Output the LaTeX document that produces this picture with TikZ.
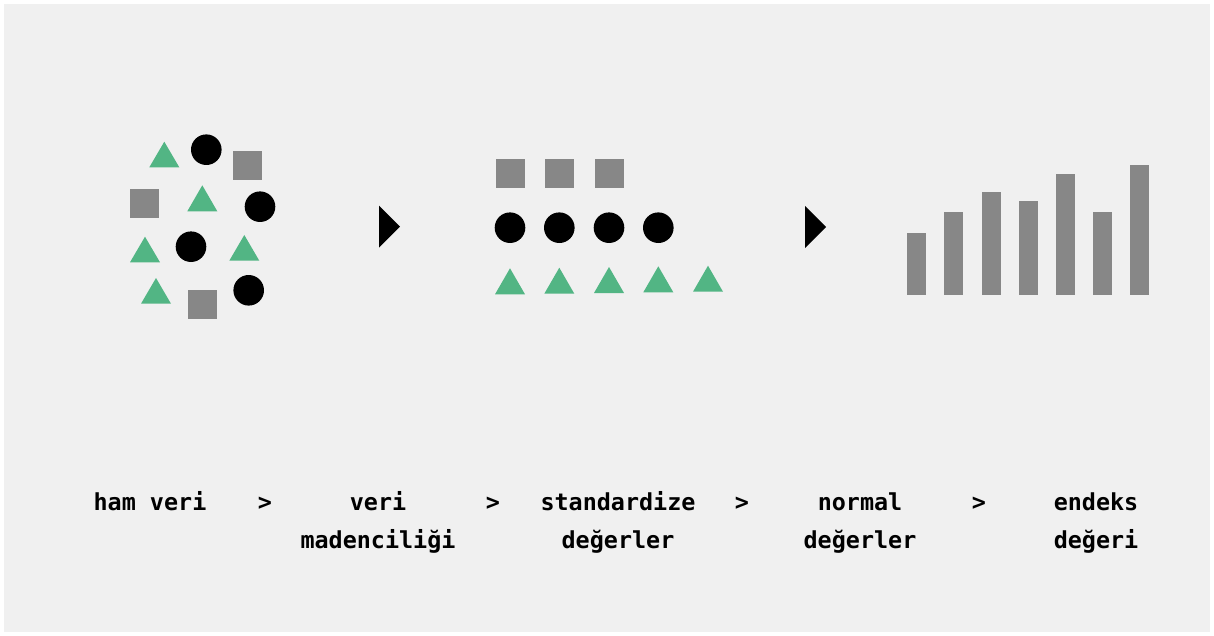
\documentclass[tikz,border=0pt]{standalone}
\usepackage{fontspec}
\setmonofont{DejaVu Sans Mono}
\definecolor{bgc}{HTML}{F0F0F0}
\definecolor{sqc}{HTML}{878787}
\definecolor{trc}{HTML}{52B584}
\tikzset{
  sq/.style={fill=sqc},
  dot/.style={fill=black},
  tri/.style={fill=trc},
  lbl/.style={font=\ttfamily\bfseries\fontsize{23.4}{38}\selectfont, anchor=base, inner sep=0pt, text=black},
}
\newcommand{\mysq}[2]{\fill[sq] (#1,#2) rectangle ++(29,29);}
\newcommand{\mydot}[2]{\fill[dot] (#1,#2) circle (15.3);}
\newcommand{\mytri}[3]{\fill[tri] (#1,#2) -- (#1-15,#3) -- (#1+15,#3) -- cycle;}
\begin{document}
\begin{tikzpicture}[x=1pt,y=-1pt]
\useasboundingbox (0,0) rectangle (1214,636);
\fill[white] (0,0) rectangle (1214,636);
\fill[bgc] (4,4) rectangle (1210,632);
% left cluster
\mytri{164.3}{141.7}{167.3}
\mydot{206.3}{149.7}
\mysq{233}{151}
\mysq{130}{189}
\mytri{202.3}{185.3}{211.3}
\mydot{260}{206.7}
\mytri{145}{236.7}{262.3}
\mydot{191}{246.7}
\mytri{244.3}{235}{260.7}
\mytri{156}{278}{303.7}
\mysq{188}{290}
\mydot{248.7}{290.3}
% arrows
\fill[black] (379,205.7) -- (400,226.7) -- (379,247.7) -- cycle;
\fill[black] (805,206) -- (826,227) -- (805,248) -- cycle;
% middle
\mysq{496}{159}
\mysq{545}{159}
\mysq{595}{159}
\mydot{510}{227.7}
\mydot{559.3}{227.7}
\mydot{609}{227.7}
\mydot{658.3}{227.7}
\mytri{510}{268.3}{294.3}
\mytri{559.3}{267.7}{293.7}
\mytri{609}{267}{293}
\mytri{658.3}{266.3}{292.3}
\mytri{708}{265.7}{291.7}
% bars
\fill[sq] (907,233) rectangle (926,295);
\fill[sq] (944,212) rectangle (963,295);
\fill[sq] (982,192) rectangle (1001,295);
\fill[sq] (1019,201) rectangle (1038,295);
\fill[sq] (1056,174) rectangle (1075,295);
\fill[sq] (1093,212) rectangle (1112,295);
\fill[sq] (1130,165) rectangle (1149,295);
% labels
\node[lbl] (l1) at (150,510) {ham veri};
\node[lbl] (g1) at (265,510) {>};
\node[lbl] (l2a) at (378,510) {veri};
\node[lbl] (l2b) at (378,548) {madenciliği};
\node[lbl] (g2) at (493,510) {>};
\node[lbl] (l3a) at (618,510) {standardize};
\node[lbl] (l3b) at (618,548) {değerler};
\node[lbl] (g3) at (742,510) {>};
\node[lbl] (l4a) at (860,510) {normal};
\node[lbl] (l4b) at (860,548) {değerler};
\node[lbl] (g4) at (979,510) {>};
\node[lbl] (l5a) at (1096,510) {endeks};
\node[lbl] (l5b) at (1096,548) {değeri};
\end{tikzpicture}
\end{document}
